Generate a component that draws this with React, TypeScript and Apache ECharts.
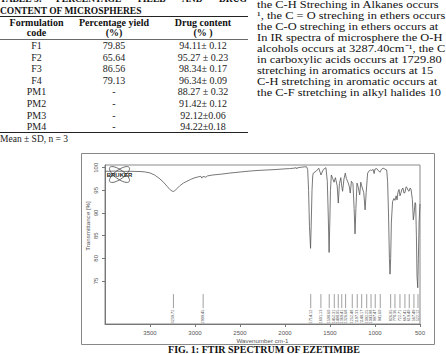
import React, { useEffect, useRef } from "react";
import * as echarts from "echarts";

// ---------- Table data ----------
const tableTitleWords = ["TABLE 3:", "PERCENTAGE", "YIELD", "AND", "DRUG"];
const tableTitleLine2 = "CONTENT OF MICROSPHERES";
const headerLine1 = ["Formulation", "Percentage yield", "Drug content"];
const headerLine2 = ["code", "(%)", "(% )"];
const formulationCodes = ["F1", "F2", "F3", "F4", "PM1", "PM2", "PM3", "PM4"];
const percentageYield = ["79.85", "65.64", "86.56", "79.13", "-", "-", "-", "-"];
const drugContent = [
  "94.11± 0.12",
  "95.27 ± 0.23",
  "98.34± 0.17",
  "96.34± 0.09",
  "88.27 ± 0.32",
  "91.42± 0.12",
  "92.12±0.06",
  "94.22±0.18",
];
const tableNote = "Mean ± SD, n = 3";

// ---------- Paragraph ----------
const paragraphLines = [
  "the C-H Streching in Alkanes occurs",
  "¹, the C = O streching in ethers occurs",
  "the C-O streching in ethers occurs at",
  "In IR spectra of microsphere the O-H",
  "alcohols occurs at 3287.40cm⁻¹, the C",
  "in carboxylic acids occurs at 1729.80",
  "stretching in aromatics occurs at 15",
  "C-H stretching in aromatic occurs at",
  "the C-F stretching in alkyl halides 10",
];

// ---------- Spectrum ----------
const wavenumbers = [
  4000, 3900, 3800, 3700, 3600, 3550, 3500, 3450, 3400, 3350, 3310, 3280, 3255, 3240, 3225, 3200, 3170, 3130, 3090,
  3050, 3000, 2960, 2935, 2925, 2915, 2900, 2880, 2860, 2800, 2700, 2600, 2500, 2400, 2300, 2200, 2100, 2000, 1950,
  1900, 1875, 1868, 1860, 1820, 1780, 1760, 1748, 1738, 1728, 1716, 1708, 1700, 1692, 1686, 1650, 1625, 1600, 1575,
  1545, 1530, 1520, 1510, 1502, 1495, 1485, 1470, 1455, 1440, 1420, 1408, 1395, 1380, 1370, 1360, 1345, 1330, 1318,
  1300, 1285, 1275, 1262, 1245, 1232, 1222, 1212, 1200, 1185, 1170, 1158, 1148, 1125, 1110, 1098, 1082, 1065, 1050,
  1037, 1020, 1010, 1000, 980, 960, 945, 930, 910, 890, 870, 860, 850, 840, 833, 826, 818, 805, 790, 778, 765, 755,
  745, 733, 722, 711, 700, 689, 678, 667, 655, 644, 633, 622, 611, 600, 585, 574, 565, 555, 548, 540, 533, 525, 518,
  510, 500,
];
const transmittance = [
  99.2, 99.25, 99.2, 99.2, 99.15, 99.05, 98.85, 98.4, 97.7, 96.8, 95.9, 95.2, 94.85, 94.75, 94.9, 95.4, 96.0, 96.6,
  97.0, 97.4, 97.8, 98.0, 98.1, 97.7, 98.0, 98.05, 97.9, 98.2, 98.4, 98.6, 98.85, 99.05, 99.25, 99.4, 99.5, 99.6,
  99.75, 99.8, 99.9, 100.0, 99.75, 100.0, 100.1, 100.2, 100.2, 99.6, 95, 87, 82.2, 88, 95, 98.2, 98.8, 99.3, 99.9,
  98.4, 99.6, 100.0, 97, 90, 81.3, 88, 95, 98.4, 97.6, 96.8, 97.8, 96.0, 92.2, 96.5, 97.8, 96.0, 94.8, 97.5, 98.8,
  97.6, 96.8, 95.8, 94.4, 97.0, 96.5, 91, 85.4, 91, 96.6, 95.6, 94.0, 96.8, 96.0, 94.5, 90.7, 94.5, 98.8, 99.3, 99.5,
  99.4, 99.6, 98.7, 99.7, 99.8, 99.3, 99.0, 99.6, 99.9, 99.7, 99.5, 97, 90, 80, 76.5, 80, 88, 92.5, 93.2, 92.8, 93.8,
  92.9, 94.6, 95.2, 93.8, 94.5, 95.3, 95.5, 94.4, 94.5, 95.8, 95.6, 95.0, 94.8, 95.5, 95.3, 93, 88.5, 90, 92.3, 92.0,
  85, 76, 73.5, 80, 88, 92,
];
const peakWavenumbers = [
  3239.72, 2909.45, 1714.12, 1601.13, 1508.6, 1452.31, 1408.05, 1369.41, 1326.68, 1252.48, 1197.33, 1148.17, 1092.25,
  1043.98, 997.47, 941.6, 826.05, 778.36, 722.71, 667.41, 619.4, 567.49, 522.12,
];
const xTickValues = [500, 1000, 1500, 2000, 2500, 3000, 3500];
const yTickValues = [75, 80, 85, 90, 95, 100];

const SERIF = "'Liberation Serif', 'Times New Roman', serif";
const SANS = "'Liberation Sans', Arial, sans-serif";

function txt(text: string, x: number, y: number, opts: any = {}) {
  const align = opts.align || "left";
  const va = opts.verticalAlign || "middle";
  return {
    type: "text",
    x,
    y,
    rotation: opts.rotation || 0,
    scaleX: opts.scaleX || 1,
    silent: true,
    style: {
      text,
      fontSize: opts.fontSize || 10,
      fontFamily: opts.fontFamily || SERIF,
      fontWeight: opts.fontWeight || "normal",
      fill: opts.fill || "#111",
      align,
      textAlign: align,
      verticalAlign: va,
      textVerticalAlign: va,
    },
  };
}

function hline(x1: number, x2: number, y: number, color = "#222", w = 1) {
  return {
    type: "line",
    silent: true,
    shape: { x1, y1: y, x2, y2: y },
    style: { stroke: color, lineWidth: w },
  };
}

export default function App() {
  const ref = useRef<HTMLDivElement>(null);

  useEffect(() => {
    if (!ref.current) return;
    const chart = echarts.init(ref.current, null, { renderer: "svg" });

    const graphics: any[] = [];
    // table title (first line is cut by the page's top edge, as in the source)
    const titleX = [0, 56, 136, 182, 219];
    tableTitleWords.forEach((w, i) => graphics.push(txt(w, titleX[i], -1.5, { fontWeight: "bold", fontSize: 9.5 })));
    graphics.push(txt(tableTitleLine2, 0, 11, { fontWeight: "bold", fontSize: 9.5 }));
    graphics.push(hline(0, 248, 16.5));
    graphics.push(hline(0, 248, 39.5, "#444", 0.8));
    graphics.push(hline(0, 248, 132.5));
    const colX = [36.5, 114, 203];
    headerLine1.forEach((h, i) => graphics.push(txt(h, colX[i], 22.5, { align: "center", fontWeight: "bold" })));
    headerLine2.forEach((h, i) => graphics.push(txt(h, colX[i], 32.5, { align: "center", fontWeight: "bold" })));
    formulationCodes.forEach((c, i) => {
      const y = 45.7 + i * 11.57;
      graphics.push(txt(c, colX[0], y, { align: "center", fill: "#222" }));
      graphics.push(txt(percentageYield[i], colX[1], y, { align: "center", fill: "#222" }));
      graphics.push(txt(drugContent[i], colX[2], y, { align: "center", fill: "#222" }));
    });
    graphics.push(txt(tableNote, 0, 138.5, { fontSize: 9.5, fill: "#222" }));

    // paragraph
    paragraphLines.forEach((l, i) =>
      graphics.push(txt(l, 257, 5 + i * 11, { fontSize: 11, scaleX: 1.13, fill: "#111" }))
    );

    // figure frame
    graphics.push({
      type: "rect",
      silent: true,
      shape: { x: 81.5, y: 153.5, width: 353, height: 191 },
      style: { stroke: "#888", fill: "none", lineWidth: 1 },
    });
    // Bruker logo
    [Math.PI / 5, -Math.PI / 5].forEach((r) =>
      graphics.push({
        type: "ellipse",
        silent: true,
        x: 119.5,
        y: 174.5,
        rotation: r,
        shape: { cx: 0, cy: 0, rx: 12, ry: 4.5 },
        style: { stroke: "#555", fill: "none", lineWidth: 0.8 },
      })
    );
    graphics.push(txt("BRUKER", 119.5, 174.5, { align: "center", fontSize: 6, fontWeight: "bold", fontFamily: SANS, fill: "#222" }));
    // y axis name
    graphics.push(txt("Transmittance [%]", 87.5, 226, { align: "center", rotation: Math.PI / 2, fontSize: 6.2, fontFamily: SANS, fill: "#555" }));
    // caption
    graphics.push(txt("FIG. 1: FTIR SPECTRUM OF EZETIMIBE", 264, 349.5, { align: "center", fontWeight: "bold", fontSize: 10, fill: "#111" }));

    const spectrum = wavenumbers.map((v, i) => [v, transmittance[i]]);
    const markerTop = 72.1;
    const markerBottom = 69.0;

    chart.setOption({
      animation: false,
      backgroundColor: "#fff",
      grid: {
        left: 105,
        top: 165,
        width: 315,
        height: 159,
        show: true,
        borderColor: "#888",
        borderWidth: 1,
        backgroundColor: "transparent",
      },
      xAxis: {
        type: "value",
        inverse: true,
        min: 500,
        max: 4000,
        name: "Wavenumber cm-1",
        nameLocation: "middle",
        nameGap: 13,
        nameTextStyle: { fontSize: 6.2, color: "#555", fontFamily: SANS },
        axisLine: { show: true, lineStyle: { color: "#777", width: 1 } },
        axisTick: { show: true, length: 3, customValues: xTickValues, lineStyle: { color: "#777" } },
        axisLabel: {
          customValues: xTickValues,
          formatter: (v: number) => String(v),
          fontSize: 6,
          color: "#555",
          margin: 6,
          fontFamily: SANS,
        },
        splitLine: { show: false },
      },
      yAxis: {
        type: "value",
        min: 65.5,
        max: 100.6,
        axisLine: { show: true, lineStyle: { color: "#777", width: 1 } },
        axisTick: { show: true, length: 3, customValues: yTickValues, lineStyle: { color: "#777" } },
        axisLabel: {
          customValues: yTickValues,
          formatter: (v: number) => String(v),
          rotate: 90,
          fontSize: 6,
          color: "#555",
          margin: 6,
          fontFamily: SANS,
        },
        splitLine: { show: false },
      },
      series: [
        {
          type: "line",
          data: spectrum,
          showSymbol: false,
          symbol: "none",
          lineStyle: { color: "#555", width: 0.8 },
          silent: true,
          z: 3,
        },
        {
          type: "custom",
          data: peakWavenumbers.map((v) => [v, markerBottom]),
          silent: true,
          clip: false,
          renderItem: (params: any, api: any) => {
            const v = api.value(0);
            const top = api.coord([v, markerTop]);
            const bot = api.coord([v, markerBottom]);
            return {
              type: "group",
              children: [
                {
                  type: "line",
                  shape: { x1: top[0], y1: top[1], x2: bot[0], y2: bot[1] },
                  style: { stroke: "#777", lineWidth: 0.7 },
                },
                {
                  type: "text",
                  x: bot[0],
                  y: bot[1] + 1.5,
                  rotation: Math.PI / 2,
                  style: {
                    text: v.toFixed(2),
                    fontSize: 3.8,
                    fontFamily: SANS,
                    fill: "#555",
                    align: "right",
                    verticalAlign: "middle",
                  },
                },
              ],
            };
          },
        },
      ],
      graphic: { elements: graphics },
    });

    return () => chart.dispose();
  }, []);

  return (
    <div style={{ position: "fixed", left: 0, top: 0, width: 446, height: 354, overflow: "hidden", background: "#fff" }}>
      <div ref={ref} style={{ width: 446, height: 354 }} />
    </div>
  );
}
